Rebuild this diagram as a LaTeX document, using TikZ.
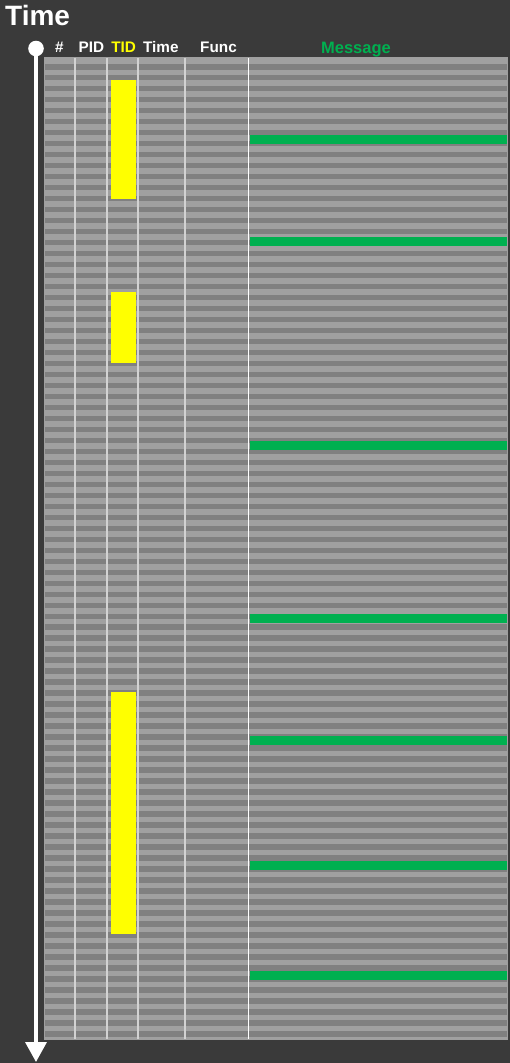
\documentclass[tikz,border=0pt]{standalone}
\usepackage{fontspec}
\setmainfont{Liberation Sans}
\usetikzlibrary{arrows.meta}

\definecolor{bgdark}{HTML}{3A3A3A}
\definecolor{rowlight}{HTML}{A0A0A0}
\definecolor{rowdark}{HTML}{808080}
\definecolor{tidyellow}{HTML}{FFFF00}
\definecolor{msggreen}{HTML}{00B050}
\definecolor{colline}{HTML}{D2D2D2}

\tikzset{
  head/.style={anchor=base, text=white, inner sep=0pt, font=\fontsize{15.3}{18}\selectfont\bfseries},
}

\begin{document}
\begin{tikzpicture}[x=1pt,y=-1pt]
        \fill[bgdark] (0,0) rectangle (510,1063);
        \useasboundingbox (0,0) rectangle (510,1063);

        \node[anchor=base west, text=white, inner sep=0pt, font=\fontsize{28}{32}\selectfont\bfseries] (title) at (5,25) {Time};

        % log rows
        \draw[fill=rowlight, draw=gray!75] (44,57) rectangle (507,1039);
        \foreach \k in {0,...,88}
          \fill[rowdark] (44.5,{64+10.99*\k}) rectangle (506.5,{69.5+10.99*\k});

        % column separators
        \foreach \x in {75,107,138,185}
          \draw[colline, line width=1.2pt] (\x,57.5) -- (\x,1038.5);
        \draw[white, line width=1.2pt] (248.5,57.5) -- (248.5,1038.5);

        % same TID
        \foreach \a/\b in {80/199, 292/363, 692/934}
          \fill[tidyellow] (111,\a) rectangle (135.5,\b);

        % matching messages
        \foreach \a in {135,237,441,614,736,861,971}
          \fill[msggreen] (249.5,\a) rectangle (507,{\a+9});

        \node[head] (hnum) at (59.5,52.3) {\#};
        \node[head] (hpid) at (91.5,52.3) {PID};
        \node[head, text=tidyellow] (htid) at (123.7,52.3) {TID};
        \node[head] (htime) at (160.8,52.3) {Time};
        \node[head] (hfunc) at (218.5,52.3) {Func};
        \node[head, text=msggreen, font=\fontsize{16.5}{19}\selectfont\bfseries] (hmsg) at (356,53) {Message};

        % time axis
        \node[circle, fill=white, minimum size=15.6pt, inner sep=0pt] (start) at (36,48.5) {};
        \coordinate (end) at (36,1062);
        \draw[white, line width=3.5pt, -{Triangle[length=20pt,width=21pt]}] (start.center) -- (end);
      \end{tikzpicture}
\end{document}
